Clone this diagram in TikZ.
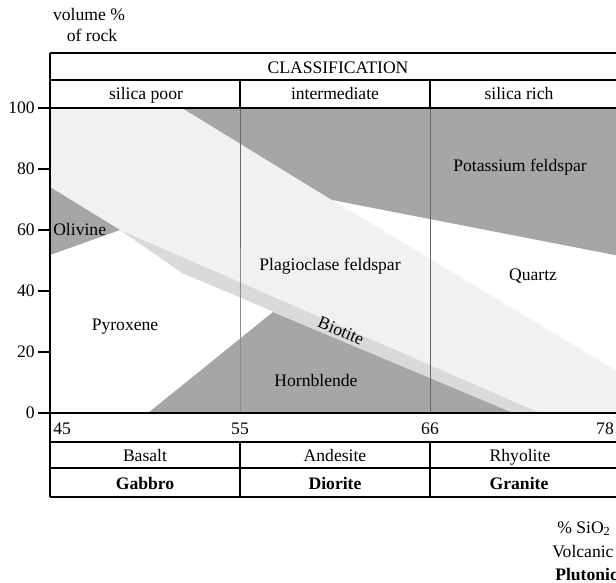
\documentclass[tikz,border=0pt]{standalone}
\usepackage{fontspec}
\setmainfont{Liberation Serif}
\definecolor{kdark}{RGB}{166,166,166}
\definecolor{plag}{RGB}{241,241,241}
\definecolor{biot}{RGB}{218,218,218}
\begin{document}
\begin{tikzpicture}[x=0.75pt,y=-0.75pt,
  every node/.style={inner sep=0pt},
  font=\fontsize{13.2}{15}\selectfont,
  frame/.style={line width=1.4pt},
  gridline/.style={line width=0.7pt, black!60},
  bold/.style={font=\fontsize{13.2}{15}\selectfont\bfseries}]
\useasboundingbox (0,0) rectangle (616,582);
\clip (0,0) rectangle (616,582);
\fill[white] (0,0) rectangle (616,582);
% mineral regions
\fill[plag] (50,108) -- (182,108) -- (332,200) -- (625,376) -- (625,413) -- (540,413) -- (120,230) -- (50,187) -- cycle;
\fill[kdark] (182,108) -- (625,108) -- (625,257) -- (332,200) -- cycle;
\fill[kdark] (50,187) -- (120,230) -- (50,255) -- cycle;
\fill[biot] (120,230) -- (540,413) -- (513,413) -- (182,273) -- cycle;
\fill[kdark] (148,413) -- (273,312) -- (513,413) -- cycle;
% inner column lines
\draw[gridline] (240,108) -- (240,248);
\draw[gridline, black!45] (240,248) -- (240,413);
\draw[gridline] (430,108) -- (430,413);
% frame and table
\draw[frame] (50,53) -- (625,53);
\draw[frame] (50,80) -- (625,80);
\draw[frame] (38,108) -- (625,108);
\draw[frame] (38,413) -- (625,413);
\draw[frame] (50,442) -- (625,442);
\draw[frame] (50,468) -- (625,468);
\draw[frame] (50,497) -- (625,497);
\draw[frame] (50,53) -- (50,497);
\draw[frame] (240,80) -- (240,108);
\draw[frame] (430,80) -- (430,108);
\draw[frame] (240,442) -- (240,497);
\draw[frame] (430,442) -- (430,497);
\foreach \yy in {169,230,291,352} \draw[frame] (38,\yy) -- (50,\yy);
% header texts
\node (vol) at (89,15) {volume \%};
\node (rock) at (92,35) {of rock};
\node[anchor=base] (cls) at (338,73) {CLASSIFICATION};
\node[anchor=base] (sp) at (146,99) {silica poor};
\node[anchor=base] (im) at (335,99) {intermediate};
\node[anchor=base] (sr) at (519,99) {silica rich};
% y axis
\node[anchor=east] (y100) at (35,108) {100};
\node[anchor=east] (y80) at (35,169) {80};
\node[anchor=east] (y60) at (35,230) {60};
\node[anchor=east] (y40) at (35,291) {40};
\node[anchor=east] (y20) at (35,352) {20};
\node[anchor=east] (y0) at (35,413) {0};
% x axis
\node[anchor=base west] (x45) at (53,434) {45};
\node[anchor=base] (x55) at (240,434) {55};
\node[anchor=base] (x66) at (430,434) {66};
\node[anchor=base] (x78) at (605,434) {78};
% rock names
\node[anchor=base] (bas) at (145,461) {Basalt};
\node[anchor=base] (and) at (335,461) {Andesite};
\node[anchor=base] (rhy) at (520,461) {Rhyolite};
\node[anchor=base,bold] (gab) at (145,489) {Gabbro};
\node[anchor=base,bold] (dio) at (335,489) {Diorite};
\node[anchor=base,bold] (gra) at (519,489) {Granite};
% legend
\node[anchor=base west] (sio) at (557,533) {\% SiO\textsubscript{2}};
\node[anchor=base west] (volc) at (552,557) {Volcanic};
\node[anchor=base west,bold] (plut) at (555,580) {Plutonic};
% minerals
\node (kfs) at (520,167) {Potassium feldspar};
\node (plg) at (330,266) {Plagioclase feldspar};
\node (qtz) at (533,276) {Quartz};
\node[anchor=west] (ol) at (53,229) {Olivine};
\node (px) at (125,327) {Pyroxene};
\node (hbl) at (316,380) {Hornblende};
\node[rotate=-23] (bt) at (341,331) {Biotite};
\end{tikzpicture}
\end{document}
